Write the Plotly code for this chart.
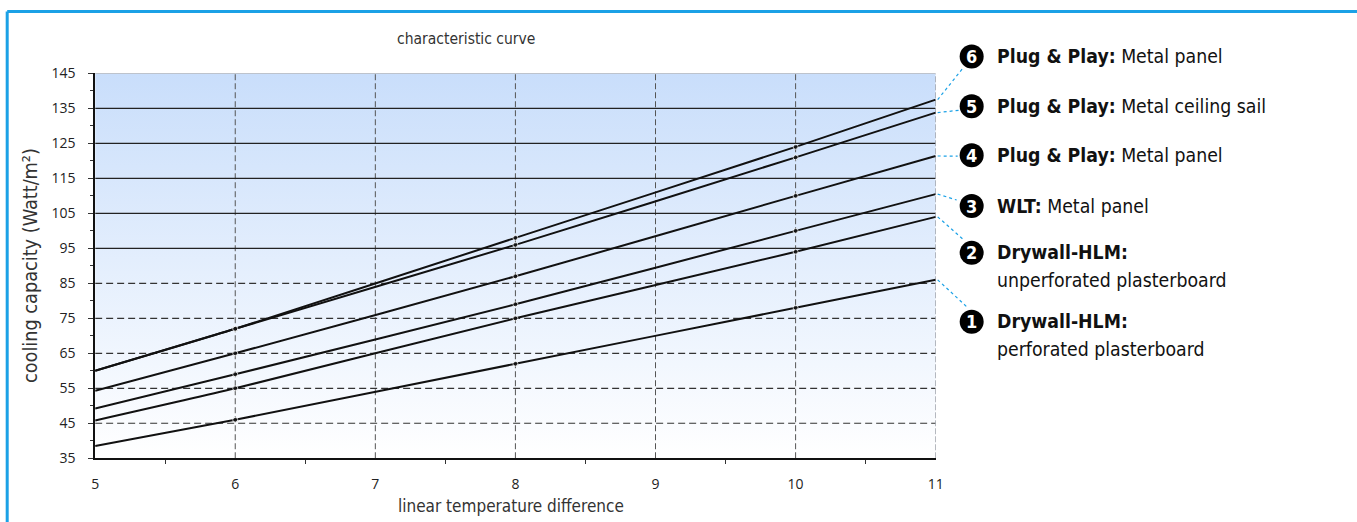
import plotly.graph_objects as go

# ── data ─────────────────────────────────────────────────────────────────────
x_vals = [5, 6, 8, 10, 11]
curve_1 = [38.5, 46, 62, 78, 86]
curve_2 = [45.8, 55, 75, 94, 104]
curve_3 = [49.2, 59, 79, 100, 110.5]
curve_4 = [54.3, 65, 87, 110, 121.4]
curve_5 = [60, 72, 96, 121, 133.8]
curve_6 = [60, 72, 98, 124, 137.5]
curves = [curve_1, curve_2, curve_3, curve_4, curve_5, curve_6]

curve_numbers = ["1", "2", "3", "4", "5", "6"]
label_bold = ["Drywall-HLM:", "Drywall-HLM:", "WLT:", "Plug &amp; Play:", "Plug &amp; Play:", "Plug &amp; Play:"]
label_rest = ["perforated plasterboard", "unperforated plasterboard", "Metal panel",
              "Metal panel", "Metal ceiling sail", "Metal panel"]

x_ticks = [5, 6, 7, 8, 9, 10, 11]
y_ticks = [35, 45, 55, 65, 75, 85, 95, 105, 115, 125, 135, 145]
grid_solid = [95, 105, 115, 125, 135]
grid_dashed = [45, 55, 65, 75, 85]
grid_vertical = [6, 7, 8, 9, 10]

# ── geometry ─────────────────────────────────────────────────────────────────
W, H = 1357, 522
X_RANGE, Y_RANGE = [5, 11], [35, 145]

# the captured picture comes out slightly shrunk and shifted relative to the
# page, so positions measured on the reference are mapped back to page pixels
SX, CX, SY, CY = 0.9917, 2.8, 0.9665, 9.4


def page(xr, yr):
    return (xr - CX) / SX, (yr - CY) / SY


PX0, PY0 = page(94, 73)      # plot area, top-left
PX1, PY1 = page(935, 459)    # plot area, bottom-right

FONT = "DejaVu Sans Condensed, Roboto, sans-serif"
TICKFONT = "Open Sans, sans-serif"
BLUE = "#1ba1e6"


def data_to_page(x, y):
    return (PX0 + (x - X_RANGE[0]) / (X_RANGE[1] - X_RANGE[0]) * (PX1 - PX0),
            PY1 - (y - Y_RANGE[0]) / (Y_RANGE[1] - Y_RANGE[0]) * (PY1 - PY0))


def to_paper(xp, yp):
    return xp / W, 1 - yp / H


def ref_paper(xr, yr):
    return to_paper(*page(xr, yr))


def hlines(vals):
    xs, ys = [], []
    for v in vals:
        xs += [X_RANGE[0], X_RANGE[1], None]
        ys += [v, v, None]
    return xs, ys


def vlines(vals):
    xs, ys = [], []
    for v in vals:
        xs += [v, v, None]
        ys += [Y_RANGE[0], Y_RANGE[1], None]
    return xs, ys


fig = go.Figure()

# gradient background
fig.add_trace(go.Scatter(
    x=[5, 11, 11, 5, 5], y=[35, 35, 145, 145, 35], mode="lines",
    line=dict(width=0), fill="toself", hoverinfo="skip", showlegend=False,
    fillgradient=dict(type="vertical", colorscale=[[0, "#ffffff"], [1, "#c9defb"]]),
))

# grid lines
gx, gy = vlines(grid_vertical)
fig.add_trace(go.Scatter(x=gx, y=gy, mode="lines", hoverinfo="skip", showlegend=False,
                         line=dict(color="#555", width=1, dash="6px,3px")))
gx, gy = hlines(grid_dashed)
fig.add_trace(go.Scatter(x=gx, y=gy, mode="lines", hoverinfo="skip", showlegend=False,
                         line=dict(color="#333", width=1.2, dash="7px,4px")))
gx, gy = hlines(grid_solid)
fig.add_trace(go.Scatter(x=gx, y=gy, mode="lines", hoverinfo="skip", showlegend=False,
                         line=dict(color="#222", width=1.2)))
# plot frame top / right
gx, gy = hlines([Y_RANGE[1]])
fig.add_trace(go.Scatter(x=gx, y=gy, mode="lines", hoverinfo="skip", showlegend=False,
                         line=dict(color="#8a8f99", width=1.2)))
gx, gy = vlines([X_RANGE[1]])
fig.add_trace(go.Scatter(x=gx, y=gy, mode="lines", hoverinfo="skip", showlegend=False,
                         line=dict(color="#8a8f99", width=1.2, dash="6px,2px")))

# curves
for num, vals in zip(curve_numbers, curves):
    fig.add_trace(go.Scatter(
        x=x_vals, y=vals, mode="lines+markers", name=num, showlegend=False,
        line=dict(color="#111", width=2, shape="spline", smoothing=0.6),
        marker=dict(color="#111", size=[0, 5, 5, 5, 0]),
        cliponaxis=False,
    ))

# ── legend: circles, labels, dotted connectors (reference pixels) ────────────
row_y = [322, 253, 206, 155, 106, 56]
circle_x = 971
text_x = 994
conn_end = [(966, 307), (962, 239), (956, 200), (957, 156), (958, 110), (962, 68)]

shapes = []
annotations = []
for i, num in enumerate(curve_numbers):
    cx, cy = ref_paper(circle_x, row_y[i])
    shapes.append(dict(type="circle", xref="paper", yref="paper",
                       xsizemode="pixel", ysizemode="pixel", xanchor=cx, yanchor=cy,
                       x0=-12, x1=12, y0=-12, y1=12,
                       fillcolor="#000", line=dict(width=0)))
    annotations.append(dict(x=cx, y=cy, xref="paper", yref="paper", text=f"<b>{num}</b>",
                            showarrow=False, xanchor="center", yanchor="middle",
                            font=dict(family=FONT, size=18, color="white")))
    tx, ty = ref_paper(text_x, row_y[i])
    if label_bold[i].startswith("Drywall"):
        annotations.append(dict(x=tx, y=ty, xref="paper", yref="paper", text=f"<b>{label_bold[i]}</b>",
                                showarrow=False, xanchor="left", yanchor="middle",
                                font=dict(family=FONT, size=19.3, color="#111")))
        tx2, ty2 = ref_paper(text_x, row_y[i] + 28)
        annotations.append(dict(x=tx2, y=ty2, xref="paper", yref="paper", text=label_rest[i],
                                showarrow=False, xanchor="left", yanchor="middle",
                                font=dict(family=FONT, size=19.3, color="#111")))
    else:
        annotations.append(dict(x=tx, y=ty, xref="paper", yref="paper",
                                text=f"<b>{label_bold[i]}</b> {label_rest[i]}",
                                showarrow=False, xanchor="left", yanchor="middle",
                                font=dict(family=FONT, size=19.3, color="#111")))
    # dotted connector from end of curve to circle
    sx, sy = data_to_page(x_vals[-1], curves[i][-1])
    sx, sy = to_paper(sx + 2, sy)
    ex, ey = ref_paper(*conn_end[i])
    shapes.append(dict(type="line", xref="paper", yref="paper", x0=sx, y0=sy, x1=ex, y1=ey,
                       line=dict(color=BLUE, width=1.2, dash="dot")))

# outer blue frame (top and left edges)
fx0, fy0 = ref_paper(6, 11)
shapes.append(dict(type="line", xref="paper", yref="paper",
                   x0=fx0, x1=1.02, y0=fy0, y1=fy0, line=dict(color=BLUE, width=3)))
shapes.append(dict(type="line", xref="paper", yref="paper",
                   x0=fx0, x1=fx0, y0=fy0, y1=-0.05, line=dict(color=BLUE, width=3)))

# titles
for txt, (tx, ty), ang, size in [("characteristic curve", (465, 38), 0, 15.5),
                                 ("linear temperature difference", (510, 507), 0, 17),
                                 ("cooling capacity (Watt/m²)", (30, 266), -90, 19.7)]:
    ax_, ay_ = ref_paper(tx, ty)
    annotations.append(dict(x=ax_, y=ay_, xref="paper", yref="paper", text=txt, textangle=ang,
                            showarrow=False, xanchor="center", yanchor="middle",
                            font=dict(family=FONT, size=size, color="#333")))

dx0, dy1 = to_paper(PX0, PY0)
dx1, dy0 = to_paper(PX1, PY1)
fig.update_layout(
    width=W, height=H,
    margin=dict(l=0, r=0, t=0, b=0),
    paper_bgcolor="white", plot_bgcolor="white",
    showlegend=False,
    shapes=shapes, annotations=annotations,
    xaxis=dict(
        domain=[dx0, dx1], range=X_RANGE, tickvals=x_ticks,
        showgrid=False, zeroline=False, showline=True, linecolor="#111", linewidth=1.5,
        ticks="", ticklabelstandoff=12,
        minor=dict(tick0=5.5, dtick=1, ticks="outside", ticklen=4, tickcolor="#333", showgrid=False),
        tickfont=dict(family=TICKFONT, size=14, color="#222"),
    ),
    yaxis=dict(
        domain=[dy0, dy1], range=Y_RANGE, tickvals=y_ticks,
        showgrid=False, zeroline=False, showline=True, linecolor="#111", linewidth=1.5,
        ticks="outside", ticklen=5, tickcolor="#333", ticklabelstandoff=10,
        minor=dict(tick0=40, dtick=10, ticks="outside", ticklen=3, tickcolor="#333", showgrid=False),
        tickfont=dict(family=TICKFONT, size=14, color="#222"),
    ),
)

# page body without default margins so the figure fills the window exactly
fig.write_html("out.html", config={"displayModeBar": False}, post_script=(
    "document.documentElement.style.overflow='hidden';"
    "document.body.style.margin='0';document.body.style.overflow='hidden';"
))
